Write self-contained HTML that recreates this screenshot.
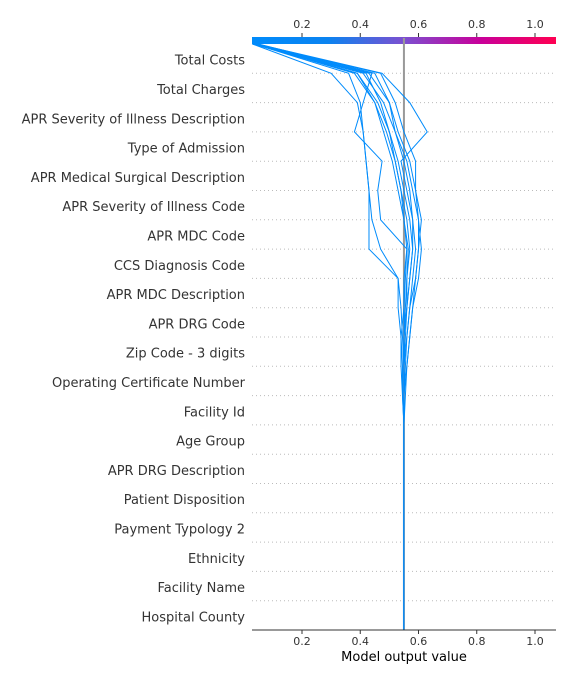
<!DOCTYPE html>
<html><head><meta charset="utf-8"><style>
body{margin:0;background:#fff;}
svg{display:block;font-family:"DejaVu Sans","Liberation Sans",sans-serif;}
</style></head><body>
<svg id="chart" width="576" height="684" viewBox="0 0 576 684">
<defs><linearGradient id="cb" x1="0" x2="1" y1="0" y2="0">
<stop offset="0" stop-color="#008bfb"/><stop offset="0.25" stop-color="#0b83f0"/><stop offset="0.5" stop-color="#7c4fd0"/><stop offset="0.75" stop-color="#c8009a"/><stop offset="1" stop-color="#ff0052"/></linearGradient></defs>
<g id="grid"></g>
<rect x="252" y="37" width="304" height="7" fill="url(#cb)"/>
<g id="base"></g>
<g id="lines"></g>
<g id="axes"></g>
<text x="404" y="661" font-size="13" text-anchor="middle" fill="#000">Model output value</text>
</svg>
<script>
const features = ["Total Costs","Total Charges","APR Severity of Illness Description","Type of Admission","APR Medical Surgical Description","APR Severity of Illness Code","APR MDC Code","CCS Diagnosis Code","APR MDC Description","APR DRG Code","Zip Code - 3 digits","Operating Certificate Number","Facility Id","Age Group","APR DRG Description","Patient Disposition","Payment Typology 2","Ethnicity","Facility Name","Hospital County"];
const tickValues = [0.2,0.4,0.6,0.8,1.0];
const tickLabels = ["0.2","0.4","0.6","0.8","1.0"];
const baseValue = 0.55;
const B = [0.55,0.55,0.55,0.55,0.55,0.55,0.55];
const line1 = B.concat([0.55,0.545,0.545,0.54,0.53,0.53,0.43,0.43,0.43,0.42,0.41,0.40,0.36,0.035]);
const line2 = B.concat([0.55,0.55,0.55,0.545,0.54,0.53,0.47,0.44,0.43,0.42,0.41,0.39,0.30,0.03]);
const line3 = B.concat([0.55,0.55,0.55,0.555,0.56,0.57,0.58,0.58,0.56,0.54,0.63,0.57,0.475,0.045]);
const line4 = B.concat([0.55,0.55,0.55,0.56,0.57,0.59,0.60,0.60,0.59,0.59,0.55,0.52,0.47,0.03]);
const line5 = B.concat([0.55,0.555,0.56,0.57,0.58,0.60,0.61,0.60,0.58,0.56,0.52,0.50,0.45,0.05]);
const line6 = B.concat([0.55,0.55,0.56,0.57,0.58,0.59,0.60,0.61,0.59,0.57,0.53,0.50,0.43,0.035]);
const line7 = B.concat([0.55,0.55,0.555,0.56,0.57,0.58,0.59,0.58,0.57,0.55,0.52,0.48,0.41,0.03]);
const line8 = B.concat([0.55,0.55,0.55,0.55,0.56,0.56,0.57,0.56,0.54,0.52,0.49,0.45,0.39,0.045]);
const line9 = B.concat([0.55,0.545,0.54,0.54,0.55,0.555,0.56,0.55,0.53,0.51,0.48,0.45,0.38,0.035]);
const line10 = B.concat([0.55,0.55,0.55,0.55,0.56,0.57,0.58,0.57,0.55,0.53,0.50,0.46,0.39,0.04]);
const line11 = B.concat([0.55,0.55,0.55,0.55,0.55,0.55,0.56,0.47,0.46,0.475,0.38,0.41,0.44,0.04]);
const line12 = B.concat([0.55,0.55,0.55,0.55,0.555,0.56,0.565,0.55,0.54,0.52,0.50,0.47,0.42,0.03]);
const series = [line1,line2,line3,line4,line5,line6,line7,line8,line9,line10,line11,line12];

const NS="http://www.w3.org/2000/svg";
const X0=252,X1=556,Y0=44,Y1=630,N=features.length;
const xScale=v=>302+(v-0.2)*291.25;
const yScale=k=>Y1-(Y1-Y0)*k/N;
function mk(tag,attrs,parent){const e=document.createElementNS(NS,tag);for(const k in attrs)e.setAttribute(k,attrs[k]);parent.appendChild(e);return e;}
const grid=document.getElementById('grid'),axes=document.getElementById('axes'),lines=document.getElementById('lines'),base=document.getElementById('base');
features.forEach((f,i)=>{
  const k=N-1-i;
  const yb=yScale(k+1);
  if(i>0){const g=mk('line',{x1:X0,x2:X1,y1:yb,y2:yb,stroke:'#bbb','stroke-dasharray':'1,3'},grid);
  
  }
  const t=mk('text',{x:245,y:(yScale(k)+yScale(k+1))/2+6,'font-size':13,'text-anchor':'end',fill:'#333'},axes);
  t.textContent=f;
  
  
});
const bl=mk('line',{x1:xScale(baseValue),x2:xScale(baseValue),y1:38,y2:Y1,stroke:'#999','stroke-width':2},base);


series.forEach((s,j)=>{
  const p=mk('polyline',{points:s.map((v,k)=>xScale(v)+','+yScale(k)).join(' '),fill:'none',stroke:'#008bfb','stroke-width':1},lines);
  
  
});
const ax=mk('line',{x1:X0,x2:X1,y1:Y1,y2:Y1,stroke:'#333','stroke-width':1},axes);


tickValues.forEach((v,i)=>{
  const x=xScale(v);
  mk('line',{x1:x,x2:x,y1:Y1,y2:Y1+4,stroke:'#333'},axes);
  const t=mk('text',{x:x,y:645,'font-size':11,'text-anchor':'middle',fill:'#333'},axes);
  t.textContent=tickLabels[i];
  
  
  mk('line',{x1:x,x2:x,y1:33,y2:37,stroke:'#333'},axes);
  const t2=mk('text',{x:x,y:28,'font-size':11,'text-anchor':'middle',fill:'#333'},axes);
  t2.textContent=tickLabels[i];
  
  
});
</script>
</body></html>
